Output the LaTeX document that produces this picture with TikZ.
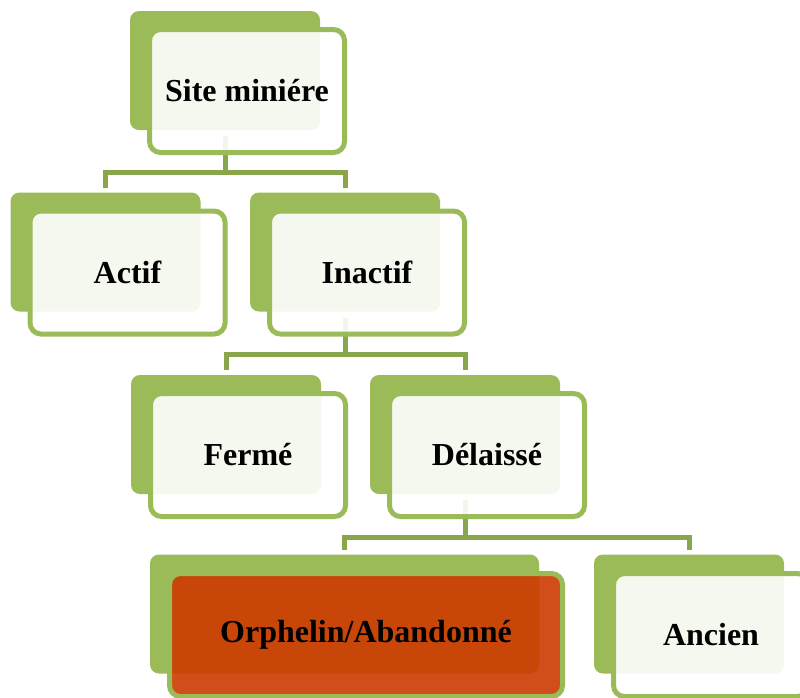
\documentclass[tikz,border=0pt]{standalone}
\usepackage{fontspec}
\setmainfont{Liberation Serif}
\definecolor{olivegr}{HTML}{9BBB59}
\definecolor{conngreen}{HTML}{8AA64B}
\definecolor{orphred}{HTML}{CC3A00}
\pgfdeclarelayer{bg}
\pgfsetlayers{bg,main}
\begin{document}
\begin{tikzpicture}[x=1pt,y=-1pt,
  backbox/.style={fill=olivegr, draw=none, rounded corners=9pt, minimum width=190pt, minimum height=119pt, inner sep=0pt, outer sep=0pt},
  frontbox/.style={draw=olivegr, line width=5pt, fill=white, fill opacity=0.9, text opacity=1, rounded corners=11pt, minimum width=195pt, minimum height=123pt, inner sep=0pt, outer sep=0pt, font=\fontsize{32}{38}\selectfont\bfseries},
  conn/.style={draw=conngreen, line width=5pt}]
\useasboundingbox (0,0) rectangle (800,697);

% level 0
\node[backbox] (siteB) at (225,70.5) {};
\node[frontbox] (site) at (247,91) {Site miniére};
% level 1
\node[backbox] (actifB) at (105.5,252) {};
\node[frontbox] (actif) at (127.5,272.5) {Actif};
\node[backbox] (inactifB) at (345,252) {};
\node[frontbox] (inactif) at (367,272.5) {Inactif};
% level 2
\node[backbox] (fermeB) at (226,434.5) {};
\node[frontbox] (ferme) at (248,455) {Fermé};
\node[backbox] (delaisseB) at (465,434.5) {};
\node[frontbox] (delaisse) at (487,455) {Délaissé};
% level 3
\node[backbox, minimum width=389pt] (orphB) at (344.5,614) {};
\node[frontbox, minimum width=393pt, fill=orphred, fill opacity=0.9] (orph) at (366,635) {Orphelin/Abandonné};
\node[backbox] (ancienB) at (689,614) {};
\node[frontbox] (ancien) at (711,635) {Ancien};

\coordinate (j1) at (siteB.south |- 0,172);
\coordinate (j2) at (inactifB.south |- 0,354);
\coordinate (j3) at (delaisseB.south |- 0,537);

\begin{pgfonlayer}{bg}
  \draw[conn, shorten <=6pt] (siteB.south) -- (j1);
  \draw[conn, shorten <=5pt, shorten >=5pt] (actifB.north) |- (j1) -| (inactifB.north);
  \draw[conn, shorten <=6pt] (inactifB.south) -- (j2);
  \draw[conn, shorten <=5pt, shorten >=5pt] (fermeB.north) |- (j2) -| (delaisseB.north);
  \draw[conn, shorten <=6pt] (delaisseB.south) -- (j3);
  \draw[conn, shorten <=5pt, shorten >=5pt] (orphB.north) |- (j3) -| (ancienB.north);
\end{pgfonlayer}
\end{tikzpicture}
\end{document}
